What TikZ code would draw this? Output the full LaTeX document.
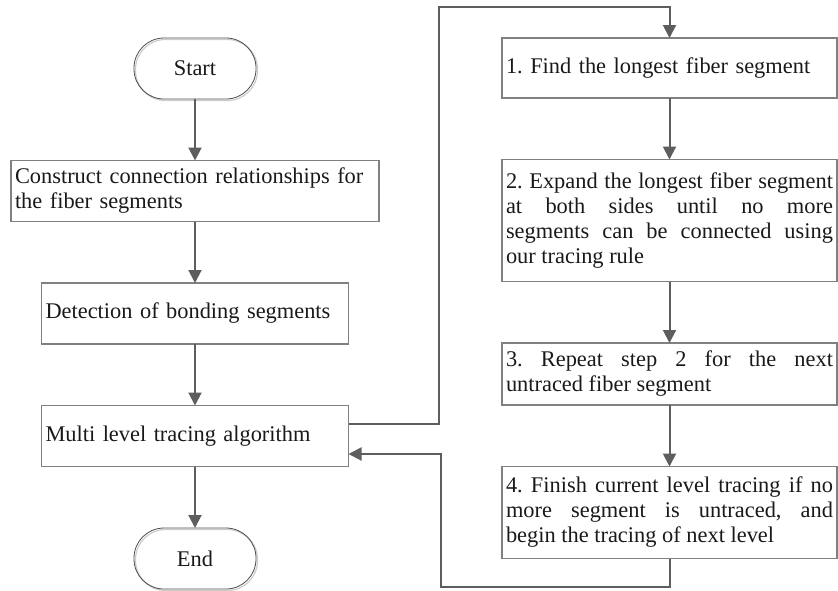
\documentclass[tikz,border=0pt]{standalone}
\usepackage{fontspec}
\setmainfont{Liberation Serif}
\usepackage{xcolor}
\usepackage{tikz}
\usetikzlibrary{arrows.meta,positioning}

\definecolor{boxgray}{HTML}{808080}
\definecolor{flowgray}{HTML}{5E5E5E}

\tikzset{
  procbox/.style={draw=boxgray, line width=1.1pt, rectangle, inner xsep=4pt, inner ysep=0pt,
    outer sep=0pt, minimum height=61pt, align=left, text=black!90,
    font=\fontsize{22.4}{25}\selectfont\frenchspacing},
  termbox/.style={draw=black!70, line width=0.8pt, rounded corners=30pt, minimum width=122pt,
    minimum height=61pt, inner sep=0pt, outer sep=0pt, text=black!90,
    font=\fontsize{22.4}{25}\selectfont,
    preaction={draw=black!20, line width=1.2pt, transform canvas={shift={(1.5pt,-1.5pt)}}}},
  flow/.style={draw=flowgray, line width=2pt, -{Triangle[width=13pt,length=13pt]}}
}

\begin{document}
\begin{tikzpicture}[auto,node distance=61.5pt]
  \useasboundingbox (0pt,0pt) rectangle (838pt,-590pt);

  % Main column (ID=start ... stop)
  \node[termbox] (start) at (195pt,-68.5pt) {Start};
  \node[procbox, text width=360pt] (construct) [below = of start]
    {Construct connection relationships for\\the fiber segments};
  \node[procbox, text width=299pt] (detect) [below = of construct] {Detection of bonding segments};
  \node[procbox, text width=299pt] (multi) [below = of detect] {Multi level tracing algorithm};
  \node[termbox] (stop) [below = of multi] {End};

  % Now the tracing steps on the right
  \node[procbox, text width=327pt, minimum height=60pt] (find) at (669.5pt,-68pt)
    {1. Find the longest fiber segment};
  \node[procbox, text width=327pt, minimum height=122pt, align=justify] (expand) [below = of find]
    {2. Expand the longest fiber segment\linebreak at both sides until no more\linebreak
     segments can be connected using\linebreak our tracing rule};
  \node[procbox, text width=327pt, minimum height=62pt, align=justify] (repeat) [below = of expand]
    {3. Repeat step 2 for the next\linebreak untraced fiber segment};
  \node[procbox, text width=327pt, minimum height=92pt, align=justify] (finish) [below = of repeat]
    {4. Finish current level tracing if no\linebreak more segment is untraced, and\linebreak
     begin the tracing of next level};

  % corners of the loop
  \coordinate (loopout) at (439pt,-7pt);
  \coordinate (loopback) at (441pt,-587pt);

  % Draw the flow between the boxes
  \draw[flow] (start) -- (construct);
  \draw[flow] (construct) -- (detect);
  \draw[flow] (detect) -- (multi);
  \draw[flow] (multi) -- (stop);
  \draw[flow] ([yshift=12pt]multi.east) -| (loopout) -| (find);
  \draw[flow] (find) -- (expand);
  \draw[flow] (expand) -- (repeat);
  \draw[flow] (repeat) -- (finish);
  \draw[flow] (finish) |- (loopback) |- ([yshift=-18pt]multi.east);
\end{tikzpicture}
\end{document}
